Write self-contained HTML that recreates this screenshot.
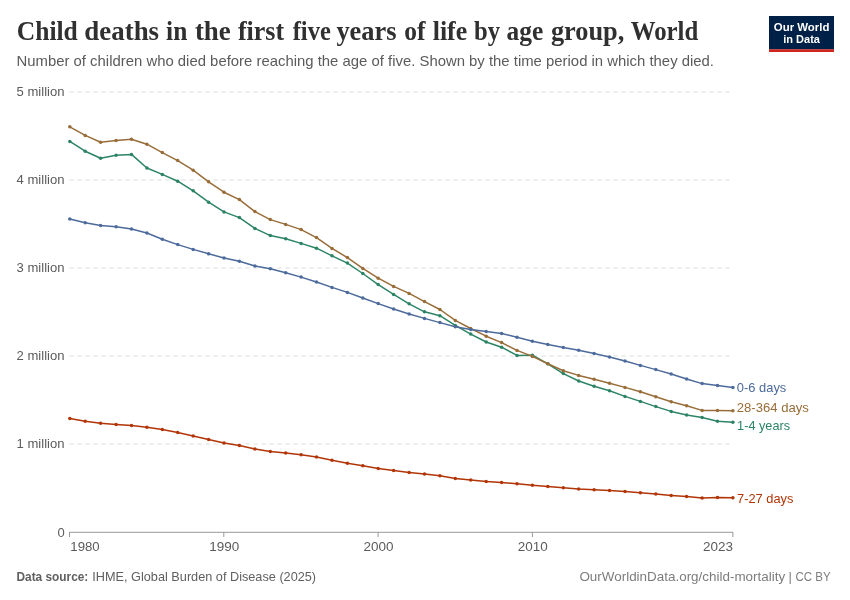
<!DOCTYPE html>
<html lang="en">
<head>
<meta charset="utf-8">
<title>Child deaths in the first five years of life by age group, World</title>
<style>
html,body{margin:0;padding:0;background:#fff;}
body{width:850px;height:600px;overflow:hidden;}
svg{display:block;font-family:"Liberation Sans",sans-serif;}
.title{font-family:"Liberation Serif",serif;font-weight:bold;}
</style>
</head>
<body>
<svg width="850" height="600" viewBox="0 0 850 600">
<rect width="850" height="600" fill="#fff"/>
<!-- header -->
<text class="title" y="39.5" font-size="26.5" fill="#303030"><tspan x="16.8" textLength="61.0" lengthAdjust="spacingAndGlyphs">Child</tspan> <tspan x="84.3" textLength="74.8" lengthAdjust="spacingAndGlyphs">deaths</tspan> <tspan x="166.1" textLength="21.2" lengthAdjust="spacingAndGlyphs">in</tspan> <tspan x="194.9" textLength="35.9" lengthAdjust="spacingAndGlyphs">the</tspan> <tspan x="237.9" textLength="46.3" lengthAdjust="spacingAndGlyphs">first</tspan> <tspan x="292.7" textLength="38.1" lengthAdjust="spacingAndGlyphs">five</tspan> <tspan x="336.4" textLength="60.2" lengthAdjust="spacingAndGlyphs">years</tspan> <tspan x="404.2" textLength="21.2" lengthAdjust="spacingAndGlyphs">of</tspan> <tspan x="432.7" textLength="34.5" lengthAdjust="spacingAndGlyphs">life</tspan> <tspan x="474.1" textLength="26.0" lengthAdjust="spacingAndGlyphs">by</tspan> <tspan x="506.6" textLength="36.7" lengthAdjust="spacingAndGlyphs">age</tspan> <tspan x="550.9" textLength="73.4" lengthAdjust="spacingAndGlyphs">group,</tspan> <tspan x="630.8" textLength="67.5" lengthAdjust="spacingAndGlyphs">World</tspan></text>
<text x="16.5" y="66.3" font-size="14.5" fill="#5b5b5b" textLength="697.5" lengthAdjust="spacingAndGlyphs">Number of children who died before reaching the age of five. Shown by the time period in which they died.</text>
<!-- logo -->
<rect x="769" y="16" width="65" height="33.4" fill="#002147"/>
<rect x="769" y="49.3" width="65" height="2.7" fill="#ce261e"/>
<text x="801.6" y="30.7" font-size="11.5" font-weight="bold" fill="#fff" text-anchor="middle" textLength="55.6" lengthAdjust="spacingAndGlyphs">Our World</text>
<text x="801.6" y="42.8" font-size="11.5" font-weight="bold" fill="#fff" text-anchor="middle" textLength="36.7" lengthAdjust="spacingAndGlyphs">in Data</text>
<!-- grid -->
<line x1="69.5" x2="733" y1="92" y2="92" stroke="#ddd" stroke-width="1" stroke-dasharray="4.2,3.8"/>
<text x="16.6" y="96.3" font-size="13" fill="#5b5b5b" textLength="47.9" lengthAdjust="spacingAndGlyphs">5 million</text>
<line x1="69.5" x2="733" y1="180" y2="180" stroke="#ddd" stroke-width="1" stroke-dasharray="4.2,3.8"/>
<text x="16.6" y="184.3" font-size="13" fill="#5b5b5b" textLength="47.9" lengthAdjust="spacingAndGlyphs">4 million</text>
<line x1="69.5" x2="733" y1="268" y2="268" stroke="#ddd" stroke-width="1" stroke-dasharray="4.2,3.8"/>
<text x="16.6" y="272.3" font-size="13" fill="#5b5b5b" textLength="47.9" lengthAdjust="spacingAndGlyphs">3 million</text>
<line x1="69.5" x2="733" y1="356" y2="356" stroke="#ddd" stroke-width="1" stroke-dasharray="4.2,3.8"/>
<text x="16.6" y="360.3" font-size="13" fill="#5b5b5b" textLength="47.9" lengthAdjust="spacingAndGlyphs">2 million</text>
<line x1="69.5" x2="733" y1="444" y2="444" stroke="#ddd" stroke-width="1" stroke-dasharray="4.2,3.8"/>
<text x="16.6" y="448.3" font-size="13" fill="#5b5b5b" textLength="47.9" lengthAdjust="spacingAndGlyphs">1 million</text>

<text x="64.8" y="536.5" font-size="13" fill="#5b5b5b" text-anchor="end">0</text>
<!-- x axis -->
<line x1="69.5" x2="733" y1="532.3" y2="532.3" stroke="#999" stroke-width="1"/>
<g stroke="#999" stroke-width="1">
<line x1="69.5" x2="69.5" y1="532" y2="537"/>
<line x1="223.8" x2="223.8" y1="532" y2="537"/>
<line x1="378.1" x2="378.1" y1="532" y2="537"/>
<line x1="532.4" x2="532.4" y1="532" y2="537"/>
<line x1="732.9" x2="732.9" y1="532" y2="537"/>
</g>
<g font-size="13" fill="#5b5b5b">
<text x="70.3" y="551" textLength="29.4" lengthAdjust="spacingAndGlyphs">1980</text>
<text x="224.2" y="551" text-anchor="middle" textLength="30" lengthAdjust="spacingAndGlyphs">1990</text>
<text x="378.5" y="551" text-anchor="middle" textLength="30" lengthAdjust="spacingAndGlyphs">2000</text>
<text x="532.8" y="551" text-anchor="middle" textLength="30" lengthAdjust="spacingAndGlyphs">2010</text>
<text x="732.9" y="551" text-anchor="end" textLength="30" lengthAdjust="spacingAndGlyphs">2023</text>
</g>
<!-- series -->
<polyline fill="none" stroke="#B13507" stroke-width="1.5" stroke-linejoin="round" stroke-linecap="round" points="69.8,418.4 85.2,421.2 100.6,423.2 116.1,424.4 131.5,425.4 146.9,427.2 162.3,429.6 177.7,432.6 193.2,436.0 208.6,439.6 224.0,443.0 239.4,445.6 254.9,449.0 270.3,451.4 285.7,453.0 301.1,454.8 316.5,457.0 332.0,460.2 347.4,463.2 362.8,465.8 378.2,468.4 393.6,470.6 409.1,472.4 424.5,474.0 439.9,475.8 455.3,478.4 470.7,480.0 486.2,481.4 501.6,482.4 517.0,483.8 532.4,485.2 547.8,486.6 563.3,487.8 578.7,489.0 594.1,489.8 609.5,490.6 625.0,491.6 640.4,492.8 655.8,494.0 671.2,495.4 686.6,496.6 702.1,498.0 717.5,497.4 732.9,497.8"/>
<g fill="#B13507"><circle cx="69.8" cy="418.4" r="1.75"/><circle cx="85.2" cy="421.2" r="1.75"/><circle cx="100.6" cy="423.2" r="1.75"/><circle cx="116.1" cy="424.4" r="1.75"/><circle cx="131.5" cy="425.4" r="1.75"/><circle cx="146.9" cy="427.2" r="1.75"/><circle cx="162.3" cy="429.6" r="1.75"/><circle cx="177.7" cy="432.6" r="1.75"/><circle cx="193.2" cy="436.0" r="1.75"/><circle cx="208.6" cy="439.6" r="1.75"/><circle cx="224.0" cy="443.0" r="1.75"/><circle cx="239.4" cy="445.6" r="1.75"/><circle cx="254.9" cy="449.0" r="1.75"/><circle cx="270.3" cy="451.4" r="1.75"/><circle cx="285.7" cy="453.0" r="1.75"/><circle cx="301.1" cy="454.8" r="1.75"/><circle cx="316.5" cy="457.0" r="1.75"/><circle cx="332.0" cy="460.2" r="1.75"/><circle cx="347.4" cy="463.2" r="1.75"/><circle cx="362.8" cy="465.8" r="1.75"/><circle cx="378.2" cy="468.4" r="1.75"/><circle cx="393.6" cy="470.6" r="1.75"/><circle cx="409.1" cy="472.4" r="1.75"/><circle cx="424.5" cy="474.0" r="1.75"/><circle cx="439.9" cy="475.8" r="1.75"/><circle cx="455.3" cy="478.4" r="1.75"/><circle cx="470.7" cy="480.0" r="1.75"/><circle cx="486.2" cy="481.4" r="1.75"/><circle cx="501.6" cy="482.4" r="1.75"/><circle cx="517.0" cy="483.8" r="1.75"/><circle cx="532.4" cy="485.2" r="1.75"/><circle cx="547.8" cy="486.6" r="1.75"/><circle cx="563.3" cy="487.8" r="1.75"/><circle cx="578.7" cy="489.0" r="1.75"/><circle cx="594.1" cy="489.8" r="1.75"/><circle cx="609.5" cy="490.6" r="1.75"/><circle cx="625.0" cy="491.6" r="1.75"/><circle cx="640.4" cy="492.8" r="1.75"/><circle cx="655.8" cy="494.0" r="1.75"/><circle cx="671.2" cy="495.4" r="1.75"/><circle cx="686.6" cy="496.6" r="1.75"/><circle cx="702.1" cy="498.0" r="1.75"/><circle cx="717.5" cy="497.4" r="1.75"/><circle cx="732.9" cy="497.8" r="1.75"/></g>
<polyline fill="none" stroke="#2C8465" stroke-width="1.5" stroke-linejoin="round" stroke-linecap="round" points="69.8,141.4 85.2,151.2 100.6,158.2 116.1,155.2 131.5,154.4 146.9,168.0 162.3,174.4 177.7,181.2 193.2,190.8 208.6,202.2 224.0,211.9 239.4,217.6 254.9,228.4 270.3,235.6 285.7,238.8 301.1,243.4 316.5,248.2 332.0,255.8 347.4,263.1 362.8,273.5 378.2,284.6 393.6,294.4 409.1,303.8 424.5,311.8 439.9,315.7 455.3,325.4 470.7,334.1 486.2,342.0 501.6,347.2 517.0,355.4 532.4,355.2 547.8,363.8 563.3,373.6 578.7,381.0 594.1,386.2 609.5,390.7 625.0,396.4 640.4,401.4 655.8,406.6 671.2,411.4 686.6,415.0 702.1,417.6 717.5,421.2 732.9,422.2"/>
<g fill="#2C8465"><circle cx="69.8" cy="141.4" r="1.75"/><circle cx="85.2" cy="151.2" r="1.75"/><circle cx="100.6" cy="158.2" r="1.75"/><circle cx="116.1" cy="155.2" r="1.75"/><circle cx="131.5" cy="154.4" r="1.75"/><circle cx="146.9" cy="168.0" r="1.75"/><circle cx="162.3" cy="174.4" r="1.75"/><circle cx="177.7" cy="181.2" r="1.75"/><circle cx="193.2" cy="190.8" r="1.75"/><circle cx="208.6" cy="202.2" r="1.75"/><circle cx="224.0" cy="211.9" r="1.75"/><circle cx="239.4" cy="217.6" r="1.75"/><circle cx="254.9" cy="228.4" r="1.75"/><circle cx="270.3" cy="235.6" r="1.75"/><circle cx="285.7" cy="238.8" r="1.75"/><circle cx="301.1" cy="243.4" r="1.75"/><circle cx="316.5" cy="248.2" r="1.75"/><circle cx="332.0" cy="255.8" r="1.75"/><circle cx="347.4" cy="263.1" r="1.75"/><circle cx="362.8" cy="273.5" r="1.75"/><circle cx="378.2" cy="284.6" r="1.75"/><circle cx="393.6" cy="294.4" r="1.75"/><circle cx="409.1" cy="303.8" r="1.75"/><circle cx="424.5" cy="311.8" r="1.75"/><circle cx="439.9" cy="315.7" r="1.75"/><circle cx="455.3" cy="325.4" r="1.75"/><circle cx="470.7" cy="334.1" r="1.75"/><circle cx="486.2" cy="342.0" r="1.75"/><circle cx="501.6" cy="347.2" r="1.75"/><circle cx="517.0" cy="355.4" r="1.75"/><circle cx="532.4" cy="355.2" r="1.75"/><circle cx="547.8" cy="363.8" r="1.75"/><circle cx="563.3" cy="373.6" r="1.75"/><circle cx="578.7" cy="381.0" r="1.75"/><circle cx="594.1" cy="386.2" r="1.75"/><circle cx="609.5" cy="390.7" r="1.75"/><circle cx="625.0" cy="396.4" r="1.75"/><circle cx="640.4" cy="401.4" r="1.75"/><circle cx="655.8" cy="406.6" r="1.75"/><circle cx="671.2" cy="411.4" r="1.75"/><circle cx="686.6" cy="415.0" r="1.75"/><circle cx="702.1" cy="417.6" r="1.75"/><circle cx="717.5" cy="421.2" r="1.75"/><circle cx="732.9" cy="422.2" r="1.75"/></g>
<polyline fill="none" stroke="#996D39" stroke-width="1.5" stroke-linejoin="round" stroke-linecap="round" points="69.8,126.8 85.2,135.4 100.6,142.2 116.1,140.6 131.5,139.2 146.9,144.2 162.3,152.6 177.7,160.6 193.2,170.2 208.6,181.8 224.0,192.2 239.4,199.6 254.9,211.6 270.3,219.6 285.7,224.4 301.1,229.6 316.5,237.6 332.0,248.4 347.4,257.6 362.8,268.4 378.2,278.2 393.6,286.4 409.1,293.4 424.5,301.6 439.9,309.5 455.3,320.4 470.7,328.5 486.2,336.2 501.6,342.6 517.0,350.4 532.4,356.4 547.8,363.8 563.3,370.8 578.7,375.4 594.1,379.3 609.5,383.2 625.0,387.4 640.4,391.8 655.8,396.8 671.2,401.8 686.6,405.8 702.1,410.4 717.5,410.4 732.9,410.8"/>
<g fill="#996D39"><circle cx="69.8" cy="126.8" r="1.75"/><circle cx="85.2" cy="135.4" r="1.75"/><circle cx="100.6" cy="142.2" r="1.75"/><circle cx="116.1" cy="140.6" r="1.75"/><circle cx="131.5" cy="139.2" r="1.75"/><circle cx="146.9" cy="144.2" r="1.75"/><circle cx="162.3" cy="152.6" r="1.75"/><circle cx="177.7" cy="160.6" r="1.75"/><circle cx="193.2" cy="170.2" r="1.75"/><circle cx="208.6" cy="181.8" r="1.75"/><circle cx="224.0" cy="192.2" r="1.75"/><circle cx="239.4" cy="199.6" r="1.75"/><circle cx="254.9" cy="211.6" r="1.75"/><circle cx="270.3" cy="219.6" r="1.75"/><circle cx="285.7" cy="224.4" r="1.75"/><circle cx="301.1" cy="229.6" r="1.75"/><circle cx="316.5" cy="237.6" r="1.75"/><circle cx="332.0" cy="248.4" r="1.75"/><circle cx="347.4" cy="257.6" r="1.75"/><circle cx="362.8" cy="268.4" r="1.75"/><circle cx="378.2" cy="278.2" r="1.75"/><circle cx="393.6" cy="286.4" r="1.75"/><circle cx="409.1" cy="293.4" r="1.75"/><circle cx="424.5" cy="301.6" r="1.75"/><circle cx="439.9" cy="309.5" r="1.75"/><circle cx="455.3" cy="320.4" r="1.75"/><circle cx="470.7" cy="328.5" r="1.75"/><circle cx="486.2" cy="336.2" r="1.75"/><circle cx="501.6" cy="342.6" r="1.75"/><circle cx="517.0" cy="350.4" r="1.75"/><circle cx="532.4" cy="356.4" r="1.75"/><circle cx="547.8" cy="363.8" r="1.75"/><circle cx="563.3" cy="370.8" r="1.75"/><circle cx="578.7" cy="375.4" r="1.75"/><circle cx="594.1" cy="379.3" r="1.75"/><circle cx="609.5" cy="383.2" r="1.75"/><circle cx="625.0" cy="387.4" r="1.75"/><circle cx="640.4" cy="391.8" r="1.75"/><circle cx="655.8" cy="396.8" r="1.75"/><circle cx="671.2" cy="401.8" r="1.75"/><circle cx="686.6" cy="405.8" r="1.75"/><circle cx="702.1" cy="410.4" r="1.75"/><circle cx="717.5" cy="410.4" r="1.75"/><circle cx="732.9" cy="410.8" r="1.75"/></g>
<polyline fill="none" stroke="#4C6A9C" stroke-width="1.5" stroke-linejoin="round" stroke-linecap="round" points="69.8,219.0 85.2,222.8 100.6,225.4 116.1,226.8 131.5,229.0 146.9,233.0 162.3,239.2 177.7,244.6 193.2,249.4 208.6,253.8 224.0,258.0 239.4,261.2 254.9,266.0 270.3,268.8 285.7,272.8 301.1,277.1 316.5,282.0 332.0,287.4 347.4,292.4 362.8,298.0 378.2,303.6 393.6,309.0 409.1,314.0 424.5,318.4 439.9,322.6 455.3,326.8 470.7,329.4 486.2,331.6 501.6,333.4 517.0,337.2 532.4,341.2 547.8,344.6 563.3,347.6 578.7,350.2 594.1,353.6 609.5,357.0 625.0,361.0 640.4,365.4 655.8,369.6 671.2,374.0 686.6,379.0 702.1,383.6 717.5,385.4 732.9,387.4"/>
<g fill="#4C6A9C"><circle cx="69.8" cy="219.0" r="1.75"/><circle cx="85.2" cy="222.8" r="1.75"/><circle cx="100.6" cy="225.4" r="1.75"/><circle cx="116.1" cy="226.8" r="1.75"/><circle cx="131.5" cy="229.0" r="1.75"/><circle cx="146.9" cy="233.0" r="1.75"/><circle cx="162.3" cy="239.2" r="1.75"/><circle cx="177.7" cy="244.6" r="1.75"/><circle cx="193.2" cy="249.4" r="1.75"/><circle cx="208.6" cy="253.8" r="1.75"/><circle cx="224.0" cy="258.0" r="1.75"/><circle cx="239.4" cy="261.2" r="1.75"/><circle cx="254.9" cy="266.0" r="1.75"/><circle cx="270.3" cy="268.8" r="1.75"/><circle cx="285.7" cy="272.8" r="1.75"/><circle cx="301.1" cy="277.1" r="1.75"/><circle cx="316.5" cy="282.0" r="1.75"/><circle cx="332.0" cy="287.4" r="1.75"/><circle cx="347.4" cy="292.4" r="1.75"/><circle cx="362.8" cy="298.0" r="1.75"/><circle cx="378.2" cy="303.6" r="1.75"/><circle cx="393.6" cy="309.0" r="1.75"/><circle cx="409.1" cy="314.0" r="1.75"/><circle cx="424.5" cy="318.4" r="1.75"/><circle cx="439.9" cy="322.6" r="1.75"/><circle cx="455.3" cy="326.8" r="1.75"/><circle cx="470.7" cy="329.4" r="1.75"/><circle cx="486.2" cy="331.6" r="1.75"/><circle cx="501.6" cy="333.4" r="1.75"/><circle cx="517.0" cy="337.2" r="1.75"/><circle cx="532.4" cy="341.2" r="1.75"/><circle cx="547.8" cy="344.6" r="1.75"/><circle cx="563.3" cy="347.6" r="1.75"/><circle cx="578.7" cy="350.2" r="1.75"/><circle cx="594.1" cy="353.6" r="1.75"/><circle cx="609.5" cy="357.0" r="1.75"/><circle cx="625.0" cy="361.0" r="1.75"/><circle cx="640.4" cy="365.4" r="1.75"/><circle cx="655.8" cy="369.6" r="1.75"/><circle cx="671.2" cy="374.0" r="1.75"/><circle cx="686.6" cy="379.0" r="1.75"/><circle cx="702.1" cy="383.6" r="1.75"/><circle cx="717.5" cy="385.4" r="1.75"/><circle cx="732.9" cy="387.4" r="1.75"/></g>

<!-- labels -->
<g font-size="13.2">
<text x="736.8" y="392.1" fill="#4C6A9C" textLength="49.5" lengthAdjust="spacingAndGlyphs">0-6 days</text>
<text x="736.8" y="412.1" fill="#996D39" textLength="72.1" lengthAdjust="spacingAndGlyphs">28-364 days</text>
<text x="737.1" y="430.2" fill="#2C8465" textLength="53" lengthAdjust="spacingAndGlyphs">1-4 years</text>
<text x="737.0" y="502.6" fill="#B13507" textLength="56.4" lengthAdjust="spacingAndGlyphs">7-27 days</text>
</g>
<!-- footer -->
<text y="581" font-size="13" fill="#5f5f5f"><tspan x="16.5" font-weight="bold" textLength="71.8" lengthAdjust="spacingAndGlyphs">Data source:</tspan> <tspan x="92.3" textLength="223.8" lengthAdjust="spacingAndGlyphs">IHME, Global Burden of Disease (2025)</tspan></text>
<text y="581" font-size="13" fill="#7d7d7d"><tspan x="579.4" textLength="205.8" lengthAdjust="spacingAndGlyphs">OurWorldinData.org/child-mortality</tspan> <tspan x="788.6">|</tspan> <tspan x="795.4" textLength="35.3" lengthAdjust="spacingAndGlyphs">CC BY</tspan></text>
</svg>
</body>
</html>
